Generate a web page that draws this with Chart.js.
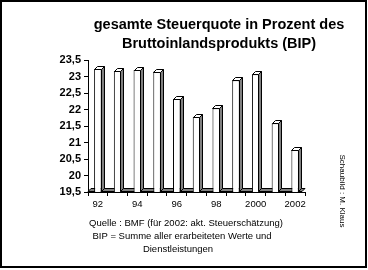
<!DOCTYPE html>
<html>
<head>
<meta charset="utf-8">
<script src="https://cdn.jsdelivr.net/npm/chart.js@4/dist/chart.umd.min.js"></script>
<style>
  body { margin: 0; background: #fff; }
  canvas { display: block; }
</style>
</head>
<body>
<canvas id="chart" width="368" height="270"></canvas>
<script>
const years = ['92', '93', '94', '95', '96', '97', '98', '99', '2000', '2001', '2002'];
const steuerquote = [23.23, 23.17, 23.2, 23.15, 22.32, 21.78, 22.04, 22.89, 23.07, 21.58, 20.77];
const titleLines = ['gesamte Steuerquote in Prozent des', 'Bruttoinlandsprodukts (BIP)'];
const footerLines = ['Quelle : BMF (für 2002: akt. Steuerschätzung)', 'BIP = Summe aller erarbeiteten Werte und', 'Dienstleistungen'];
const credit = 'Schaubild : M. Klaus';

const FONT = '"Liberation Sans", Arial, sans-serif';
const DEPTH = 3;

// side + top faces for the fake 3d look
const bars3d = {
  id: 'bars3d',
  beforeDatasetsDraw(chart) {
    const ctx = chart.ctx;
    const a = chart.chartArea;
    ctx.save();
    ctx.fillStyle = '#808080';
    ctx.strokeStyle = '#000';
    ctx.lineWidth = 1;
    ctx.beginPath();
    ctx.moveTo(a.left, a.bottom - 0.5);
    ctx.lineTo(a.left + DEPTH, a.bottom - DEPTH - 0.5);
    ctx.lineTo(a.right, a.bottom - DEPTH - 0.5);
    ctx.lineTo(a.right - DEPTH, a.bottom - 0.5);
    ctx.closePath();
    ctx.fill();
    ctx.stroke();
    ctx.restore();
  },
  afterDatasetsDraw(chart) {
    const ctx = chart.ctx;
    const meta = chart.getDatasetMeta(0);
    const bottom = chart.chartArea.bottom;
    ctx.save();
    ctx.strokeStyle = '#000';
    ctx.lineWidth = 1;
    meta.data.forEach(bar => {
      const { x, y, width } = bar.getProps(['x', 'y', 'width'], true);
      const l = Math.round(x - width / 2) + 0.5;
      const r = Math.round(x + width / 2) - 0.5;
      const t = Math.round(y) + 0.5;
      const b = Math.round(bottom) - 0.5;
      ctx.fillStyle = '#808080';
      ctx.beginPath();
      ctx.moveTo(r, t);
      ctx.lineTo(r + DEPTH, t - DEPTH);
      ctx.lineTo(r + DEPTH, b - DEPTH);
      ctx.lineTo(r, b);
      ctx.closePath();
      ctx.fill();
      ctx.stroke();
      ctx.fillStyle = '#fff';
      ctx.beginPath();
      ctx.moveTo(l, t);
      ctx.lineTo(l + DEPTH, t - DEPTH);
      ctx.lineTo(r + DEPTH, t - DEPTH);
      ctx.lineTo(r, t);
      ctx.closePath();
      ctx.fill();
      ctx.stroke();
    });
    ctx.restore();
  }
};

const texts = {
  id: 'texts',
  afterDraw(chart) {
    const ctx = chart.ctx;
    ctx.save();
    ctx.fillStyle = '#000';
    ctx.textAlign = 'center';
    ctx.textBaseline = 'middle';
    ctx.font = 'bold 14.5px ' + FONT;
    ctx.fillText(titleLines[0], 219, 25);
    ctx.fillText(titleLines[1], 219, 44);
    ctx.font = '9.5px ' + FONT;
    ctx.fillText(footerLines[0], 186, 223);
    ctx.fillText(footerLines[1], 182, 236);
    ctx.fillText(footerLines[2], 178, 249);
    ctx.translate(342, 191);
    ctx.rotate(Math.PI / 2);
    ctx.font = '8px ' + FONT;
    ctx.fillText(credit, 0, 0);
    ctx.restore();
    ctx.save();
    ctx.strokeStyle = '#000';
    ctx.lineWidth = 2;
    ctx.strokeRect(1, 1, 365, 266);
    ctx.restore();
  }
};

new Chart(document.getElementById('chart'), {
  type: 'bar',
  data: {
    labels: years,
    datasets: [{
      data: steuerquote,
      backgroundColor: '#fff',
      borderColor: '#000',
      borderWidth: 1,
      barPercentage: 0.38,
      categoryPercentage: 1
    }]
  },
  options: {
    responsive: false,
    animation: false,
    layout: { padding: { left: 0, top: 60, right: 63, bottom: 58 } },
    plugins: {
      legend: { display: false },
      tooltip: { enabled: false }
    },
    scales: {
      x: {
        afterFit: s => { s.height = 20; },
        grid: { drawOnChartArea: false, tickLength: 4, color: '#000' },
        border: { color: '#000', width: 1 },
        ticks: {
          autoSkip: false,
          maxRotation: 0,
          padding: 3,
          color: '#000',
          font: { family: FONT, size: 9.5 },
          callback: (v, i) => (i % 2 === 0 ? years[i] : '')
        }
      },
      y: {
        min: 19.5,
        max: 23.5,
        afterFit: s => { s.width = 88; },
        grid: { drawOnChartArea: false, tickLength: 4, color: '#000' },
        border: { color: '#000', width: 1 },
        ticks: {
          stepSize: 0.5,
          padding: 3,
          color: '#000',
          font: { family: FONT, size: 11, weight: 'bold' },
          callback: v => String(v).replace('.', ',')
        }
      }
    }
  },
  plugins: [bars3d, texts]
});
</script>
</body>
</html>
